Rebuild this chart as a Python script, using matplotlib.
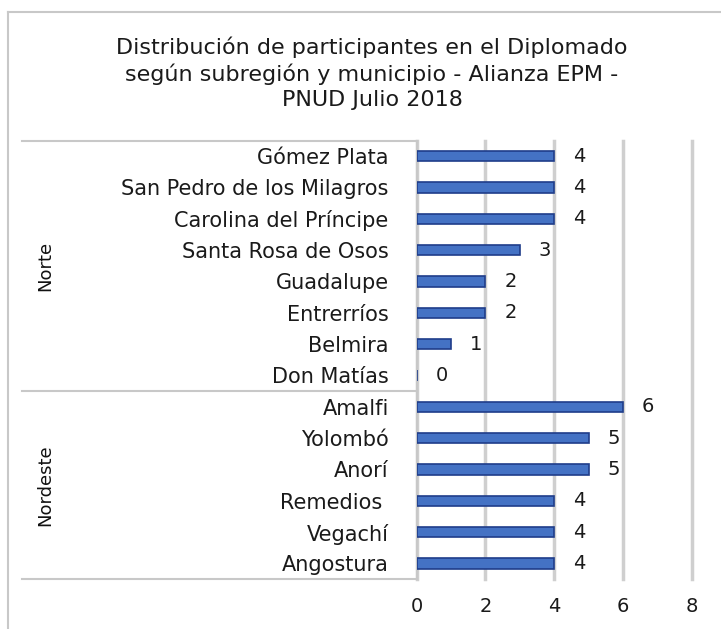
import matplotlib.pyplot as plt
from matplotlib.lines import Line2D

municipios = ["Gómez Plata", "San Pedro de los Milagros", "Carolina del Príncipe",
              "Santa Rosa de Osos", "Guadalupe", "Entrerríos", "Belmira", "Don Matías",
              "Amalfi", "Yolombó", "Anorí", "Remedios ", "Vegachí", "Angostura"]
participantes = [4, 4, 4, 3, 2, 2, 1, 0, 6, 5, 5, 4, 4, 4]
subregiones = ["Norte", "Nordeste"]
tamanos = [8, 6]
titulo = ("Distribución de participantes en el Diplomado\n"
          "según subregión y municipio - Alianza EPM -\nPNUD Julio 2018")

plt.rcParams['font.family'] = ['DejaVu Sans']
W, H = 721, 629
fig = plt.figure(figsize=(W / 100, H / 100), dpi=100)

x0, x1, ytop, ybot = 416.5, 692, 140.5, 579
ax = fig.add_axes([x0 / W, 1 - ybot / H, (x1 - x0) / W, (ybot - ytop) / H])

pos = list(range(len(municipios)))
ax.barh(pos, participantes, height=0.33, color='#4472C4', edgecolor='#1F3D8A', linewidth=1.2, zorder=3)
ax.set_ylim(len(municipios) - 0.5, -0.5)
ax.set_xlim(0, 8)
ax.set_xticks([0, 2, 4, 6, 8])
ax.set_yticks(pos)
ax.set_yticklabels(municipios, fontsize=15, color='#1a1a1a')
ax.tick_params(axis='y', length=0, pad=20)
ax.tick_params(axis='x', length=0, pad=13, labelsize=14, labelcolor='#1a1a1a')
ax.grid(axis='x', color='#CFCFCF', linewidth=2.5, zorder=0)
for gl in ax.get_xgridlines():
    gl.set_clip_on(False)
for s in ['top', 'right', 'bottom']:
    ax.spines[s].set_visible(False)
ax.spines['left'].set_color('#C8C8C8')
ax.spines['left'].set_linewidth(1.5)

for p, v in zip(pos, participantes):
    ax.annotate(str(v), (v, p), xytext=(25, 0), textcoords='offset pixels',
                ha='center', va='center', fontsize=14, color='#1a1a1a')

# group separators and labels
xl = (22 - x0) / (x1 - x0)
xg = (45 - x0) / (x1 - x0)
start = 0
for name, n in zip(subregiones, tamanos):
    yb = start - 0.5
    ax.add_line(Line2D([xl, 0], [yb, yb], transform=ax.get_yaxis_transform(),
                       color='#C8C8C8', linewidth=1.5, clip_on=False))
    ax.text(xg, start + (n - 1) / 2, name, transform=ax.get_yaxis_transform(),
            rotation=90, ha='center', va='center', fontsize=13, color='#111111')
    start += n
ax.add_line(Line2D([xl, 0], [start - 0.5, start - 0.5], transform=ax.get_yaxis_transform(),
                   color='#C8C8C8', linewidth=1.5, clip_on=False))

fig.text(372 / W, 1 - 73 / H, titulo, ha='center', va='center', fontsize=16,
         color='#1a1a1a', linespacing=1.3)

# outer chart border
fig.add_artist(Line2D([8 / W, 1], [1 - 12 / H, 1 - 12 / H], transform=fig.transFigure,
                      color='#C8C8C8', linewidth=1.5))
fig.add_artist(Line2D([8 / W, 8 / W], [0, 1 - 12 / H], transform=fig.transFigure,
                      color='#C8C8C8', linewidth=1.5))

fig.savefig("out.png", dpi=100)
